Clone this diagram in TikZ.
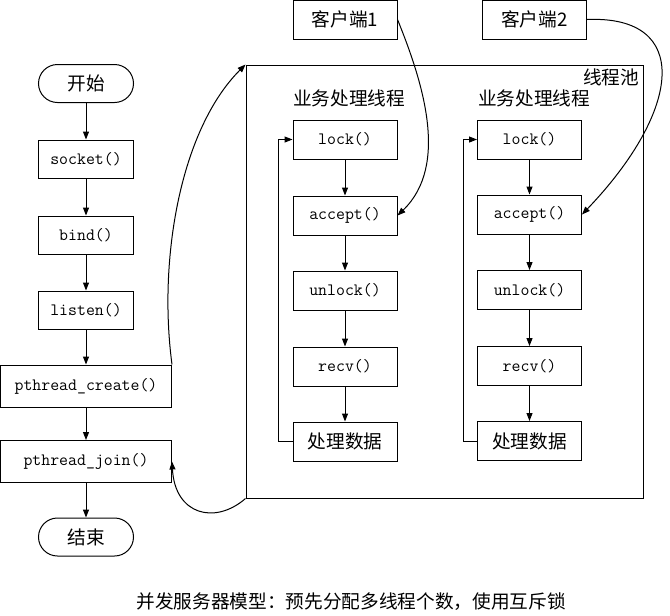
\documentclass[tikz,border=0pt]{standalone}
\usepackage{fontspec}
\setmainfont{Liberation Serif}
\newfontfamily\cjk{Noto Sans CJK SC}
\usetikzlibrary{arrows.meta}
\begin{document}
\begin{tikzpicture}[x=0.75pt,y=-0.75pt,
 line width=0.75pt,
 arr/.style={-{Triangle[length=6pt,width=4.5pt]}},
 sbox/.style={draw, minimum width=71.25pt, minimum height=28.5pt, inner sep=0pt},
 term/.style={sbox, rounded corners=14.25pt},
 wbox/.style={draw, minimum width=128.25pt, minimum height=31.5pt, inner sep=0pt},
 tbox/.style={draw, minimum width=78pt, minimum height=29.25pt, inner sep=0pt},
 cn/.style={font=\cjk\fontsize{14}{16}\selectfont},
 mono/.style={font=\ttfamily\fontsize{13}{15}\selectfont}]
\useasboundingbox (0,0) rectangle (670,615);

% main flow
\node[term,cn] (start) at (86,83.5) {开始};
\node[sbox,mono] (sock) at (86,159) {socket()};
\node[sbox,mono] (bind) at (86,235) {bind()};
\node[sbox,mono] (listen) at (86,310) {listen()};
\node[wbox,mono] (create) at (86,386) {pthread\_create()};
\node[wbox,mono] (join) at (86,461.5) {pthread\_join()};
\node[term,cn] (end) at (86,537) {结束};

\draw[arr] (start) -- (sock);
\draw[arr] (sock) -- (bind);
\draw[arr] (bind) -- (listen);
\draw[arr] (listen) -- (create);
\draw[arr] (create) -- (join);
\draw[arr] (join) -- (end);

% thread pool
\node[draw, minimum width=297.75pt, minimum height=324.75pt, inner sep=0pt] (pool) at (444.5,281.5) {};
\node[cn, anchor=north east, inner sep=1pt] (poollbl) at (641,67) {线程池};

% clients
\node[tbox,cn] (c1) at (345,19.5) {客户端1};
\node[tbox,cn] (c2) at (534.5,19.5) {客户端2};

% thread titles
\node[cn] (t1) at (349,98) {业务处理线程};
\node[cn] (t2) at (534,98) {业务处理线程};

% left thread
\node[tbox,mono] (l1) at (345,139.5) {lock()};
\node[tbox,mono] (a1) at (345,215.5) {accept()};
\node[tbox,mono] (u1) at (345,290.5) {unlock()};
\node[tbox,mono] (r1) at (345,366.5) {recv()};
\node[tbox,cn] (p1) at (345,441.5) {处理数据};

% right thread
\node[tbox,mono] (l2) at (529.5,139.5) {lock()};
\node[tbox,mono] (a2) at (529.5,214.5) {accept()};
\node[tbox,mono] (u2) at (529.5,290) {unlock()};
\node[tbox,mono] (r2) at (529.5,366) {recv()};
\node[tbox,cn] (p2) at (529.5,441) {处理数据};

\draw[arr] (l1) -- (a1);
\draw[arr] (a1) -- (u1);
\draw[arr] (u1) -- (r1);
\draw[arr] (r1) -- (p1);
\draw[arr] (p1.west) -- ++(-14,0) |- (l1.west);

\draw[arr] (l2) -- (a2);
\draw[arr] (a2) -- (u2);
\draw[arr] (u2) -- (r2);
\draw[arr] (r2) -- (p2);
\draw[arr] (p2.west) -- ++(-14,0) |- (l2.west);

% client curves
\draw[arr] (c1.east) .. controls (422,80) and (450,165) .. (a1.east);
\draw[arr] (c2.east) .. controls (692,15) and (682,110) .. (a2.east);

% create / join curves
\draw[arr] (create.north east) .. controls (158,260) and (180,130) .. (pool.north west);
\draw[arr] (pool.south west) .. controls (215,525) and (175,515) .. (join.east);

% caption
\node[cn] (cap) at (351,602) {并发服务器模型：预先分配多线程个数，使用互斥锁};
\end{tikzpicture}
\end{document}
